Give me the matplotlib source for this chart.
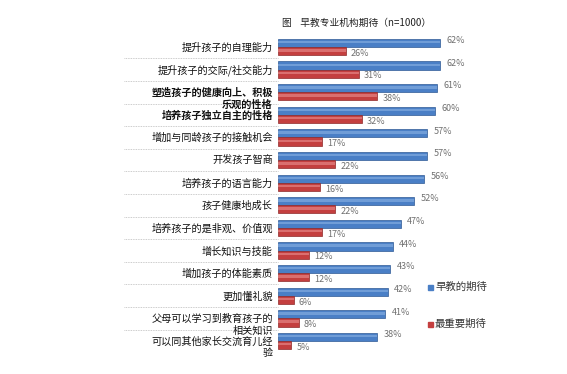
import matplotlib
matplotlib.use("Agg")
import matplotlib.pyplot as plt
from matplotlib.patches import Rectangle
import matplotlib.transforms as mtrans

plt.rcParams['font.family'] = ['Noto Sans CJK SC', 'DejaVu Sans']

title = "图    早教专业机构期待（n=1000）"
categories = [
    "提升孩子的自理能力",
    "提升孩子的交际/社交能力",
    "塑造孩子的健康向上、积极\n乐观的性格",
    "培养孩子独立自主的性格",
    "增加与同龄孩子的接触机会",
    "开发孩子智商",
    "培养孩子的语言能力",
    "孩子健康地成长",
    "培养孩子的是非观、价值观",
    "增长知识与技能",
    "增加孩子的体能素质",
    "更加懂礼貌",
    "父母可以学习到教育孩子的\n相关知识",
    "可以同其他家长交流育儿经\n验",
]
bold_rows = [2, 3]
expect = [62, 62, 61, 60, 57, 57, 56, 52, 47, 44, 43, 42, 41, 38]
most_important = [26, 31, 38, 32, 17, 22, 16, 22, 17, 12, 12, 6, 8, 5]
series_names = ["早教的期待", "最重要期待"]

W, H = 567, 374
fig = plt.figure(figsize=(W / 100, H / 100), dpi=100)
ax = fig.add_axes([278 / W, 0.058, 261 / W, 0.8465])
ax.set_xlim(0, 100)
ax.set_ylim(13.5, -0.5)
ax.axis('off')

blue, blue_hi, blue_ed = "#4A7FC6", "#7AA5DC", "#2F5A95"
red, red_hi, red_ed = "#C43F3F", "#E07C7C", "#8E2A2A"
bh = 0.36
n = len(categories)
ys = list(range(n))
yb = [y - bh / 2 for y in ys]
yr = [y + bh / 2 for y in ys]

ax.barh(yb, expect, height=bh, color=blue, edgecolor=blue_ed, linewidth=0.5)
ax.barh([y - bh * 0.1 for y in yb], expect, height=bh * 0.3, color=blue_hi, linewidth=0, alpha=0.8)
ax.barh(yr, most_important, height=bh, color=red, edgecolor=red_ed, linewidth=0.5)
ax.barh([y - bh * 0.1 for y in yr], most_important, height=bh * 0.3, color=red_hi, linewidth=0, alpha=0.8)

for y, v in zip(yb, expect):
    ax.text(v + 2.5, y - 0.1, f"{v}%", fontsize=6.5, color="#707070", va="center", ha="left")
for y, v in zip(yr, most_important):
    ax.text(v + 2.0, y + 0.1, f"{v}%", fontsize=6.5, color="#707070", va="center", ha="left")

trans = mtrans.blended_transform_factory(ax.transAxes, ax.transData)
for i in range(n - 1):
    ax.plot([-0.59, 0.0], [i + 0.5, i + 0.5], transform=trans, clip_on=False,
            color="#BBBBBB", linewidth=0.6, linestyle=(0, (1, 1)))

for i, lab in enumerate(categories):
    yy = i + (0.27 if "\n" in lab else 0.03)
    ax.text(-0.02, yy, lab, transform=trans, ha="right", va="center",
            fontsize=7.3, color="#111111", linespacing=1.2,
            fontweight="bold" if i in bold_rows else "normal")

fig.text(282 / W, 1 - 23 / H, title, fontsize=7, ha="left", va="center", color="#222222")

for name, col, ypx in zip(series_names, [blue, red], [287, 324]):
    fig.add_artist(Rectangle((428 / W, 1 - (ypx + 2.5) / H), 5 / W, 5 / H,
                             transform=fig.transFigure, color=col))
    fig.text(435 / W, 1 - ypx / H, name, fontsize=7.5, ha="left", va="center", color="#333333")

fig.savefig("out.png", dpi=100)
